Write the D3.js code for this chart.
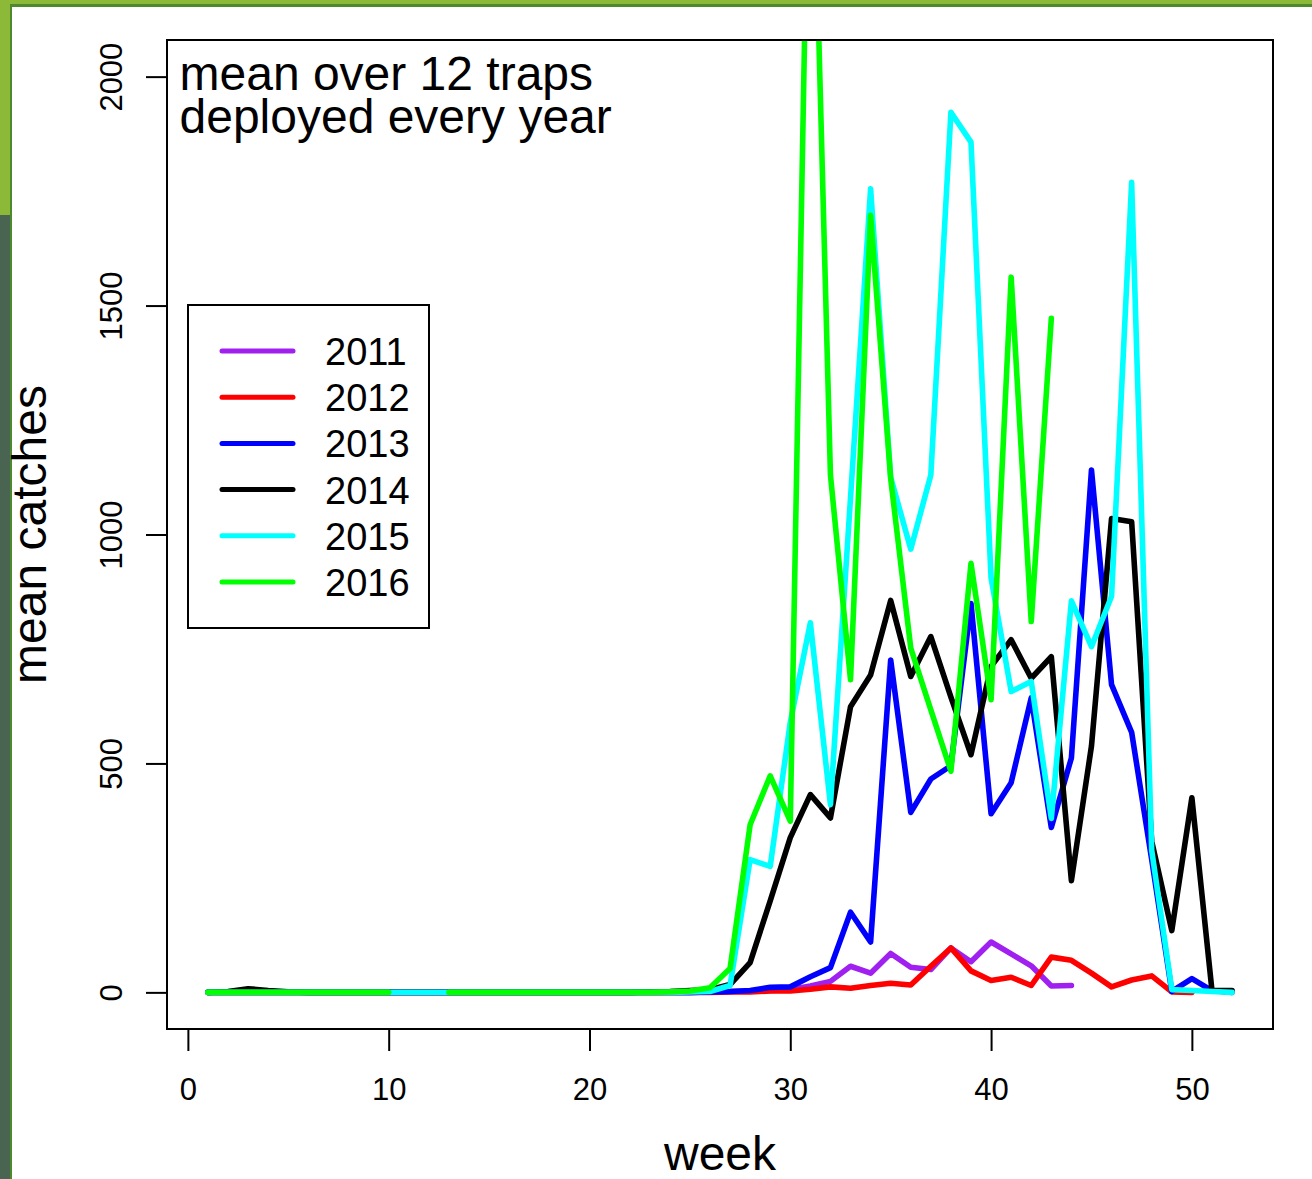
<!DOCTYPE html>
<html>
<head>
<meta charset="utf-8">
<script src="https://cdn.jsdelivr.net/npm/d3@7"></script>
<style>
  html, body { margin: 0; padding: 0; background: #ffffff; }
  svg { display: block; font-family: "Liberation Sans", Arial, Helvetica, sans-serif; }
</style>
</head>
<body>
<svg id="chart" width="1312" height="1179"></svg>
<script>
// Weekly mean catches over 12 traps, one series per year (null = no data that week)
const weeks = d3.range(1, 53);

const years = ["2011", "2012", "2013", "2014", "2015", "2016"];
const yearColors = ["#A020F0", "#FF0000", "#0000FF", "#000000", "#00FFFF", "#00FF00"];

const catches2011 = [
  0, 0, 0, 0, 0, 0, 0, 0, 0, 0,
  0, 0, 0, 0, 0, 0, 0, 0, 0, 0,
  0, 0, 0, 0, 0, 1, 2, 3, 4, 6,
  14, 24, 57, 42, 85, 55, 50, 97, 67, 110,
  84, 58, 14, 15
];
const catches2012 = [
  0, 0, 0, 0, 0, 0, 0, 0, 0, 0,
  0, 0, 0, 0, 0, 0, 0, 0, 0, 0,
  0, 0, 0, 0, 0, 0, 1, 1, 3, 3,
  7, 12, 9, 15, 20, 16, 57, 97, 47, 26,
  33, 15, 77, 70, 42, 12, 27, 36, 1, 0
];
const catches2013 = [
  0, 0, 0, 0, 0, 0, 0, 0, 0, 0,
  0, 0, 0, 0, 0, 0, 0, 0, 0, 0,
  0, 0, 0, 0, 0, 1, 2, 4, 11, 12,
  34, 54, 175, 110, 726, 393, 466, 495, 849, 390,
  458, 643, 360, 512, 1141, 672, 568, 290, 2, 30,
  4, 0
];
const catches2014 = [
  0, 2, 8, 4, 1, 0, 0, 0, 0, 0,
  0, 0, 0, 0, 0, 0, 0, 0, 0, 0,
  0, 0, 1, 2, 4, 6, 17, 65, 200, 338,
  432, 381, 624, 693, 856, 690, 777, 645, 519, 712,
  770, 686, 733, 244, 538, 1035, 1028, 330, 135, 425,
  4, 4
];
const catches2015 = [
  0, 0, 0, 0, 0, 0, 0, 0, 0, 0,
  0, 0, 0, 0, 0, 0, 0, 0, 0, 0,
  0, 0, 0, 0, 1, 2, 15, 290, 275, 590,
  807, 410, 1080, 1755, 1125, 968, 1130, 1922, 1857, 905,
  657, 679, 380, 855, 755, 865, 1769, 310, 6, 4,
  2, 0
];
const catches2016 = [
  0, 0, 0, 0, 0, 0, 0, 0, 0, 0,
  null, null, 0, 0, 0, 0, 0, 0, 0, 0,
  0, 0, 0, 1, 3, 10, 52, 366, 473, 374,
  2780, 1130, 683, 1697, 1122, 752, 617, 483, 937, 639,
  1562, 810, 1472
];

const xTicks = [0, 10, 20, 30, 40, 50];
const yTicks = [0, 500, 1000, 1500, 2000];
const noteLines = ["mean over 12 traps", "deployed every year"];

const seriesValues = [catches2011, catches2012, catches2013, catches2014, catches2015, catches2016];
const series = years.map((yr, i) => ({
  year: yr,
  color: yearColors[i],
  points: seriesValues[i].map((v, j) => ({ week: weeks[j], value: v }))
}));

const svg = d3.select("#chart");
const W = 1312, H = 1179;

// page frame: green band on top and left edge
svg.append("rect").attr("x", 0).attr("y", 0).attr("width", W).attr("height", H).attr("fill", "#ffffff");
svg.append("rect").attr("x", 0).attr("y", 0).attr("width", W).attr("height", 4).attr("fill", "#8CB937");
svg.append("rect").attr("x", 0).attr("y", 4).attr("width", W).attr("height", 3).attr("fill", "#4C8A2D");
svg.append("rect").attr("x", 0).attr("y", 0).attr("width", 10).attr("height", 215).attr("fill", "#8CB937");
svg.append("rect").attr("x", 0).attr("y", 215).attr("width", 10).attr("height", H - 215).attr("fill", "#4A6452");
svg.append("rect").attr("x", 10).attr("y", 4).attr("width", 2).attr("height", H - 4).attr("fill", "#4C8A2D");

// plot region
const plot = { left: 167, right: 1273, top: 40, bottom: 1029 };

const x = d3.scaleLinear().domain([1 - 0.04 * 51, 52 + 0.04 * 51]).range([plot.left, plot.right]);
const y = d3.scaleLinear().domain([-80, 2080]).range([plot.bottom, plot.top]);

svg.append("defs").append("clipPath").attr("id", "plotClip")
  .append("rect")
  .attr("x", plot.left).attr("y", plot.top)
  .attr("width", plot.right - plot.left).attr("height", plot.bottom - plot.top);

const line = d3.line()
  .defined(d => d.value !== null && d.value !== undefined)
  .x(d => x(d.week))
  .y(d => y(d.value));

const lines = svg.append("g").attr("clip-path", "url(#plotClip)");
lines.selectAll("path")
  .data(series)
  .join("path")
  .attr("d", d => line(d.points))
  .attr("fill", "none")
  .attr("stroke", d => d.color)
  .attr("stroke-width", 5.6)
  .attr("stroke-linejoin", "round")
  .attr("stroke-linecap", "round");

// box around the plot
svg.append("rect")
  .attr("x", plot.left).attr("y", plot.top)
  .attr("width", plot.right - plot.left).attr("height", plot.bottom - plot.top)
  .attr("fill", "none").attr("stroke", "#000").attr("stroke-width", 2);

// x axis
const xAxis = svg.append("g")
  .attr("transform", `translate(0,${plot.bottom})`)
  .call(d3.axisBottom(x).tickValues(xTicks).tickFormat(d3.format("d")).tickSize(22).tickSizeOuter(0));
xAxis.select(".domain").remove();
xAxis.selectAll(".tick line").attr("stroke", "#000").attr("stroke-width", 2);
xAxis.selectAll(".tick text")
  .attr("y", 71).attr("dy", null)
  .attr("fill", "#000")
  .style("font-size", "31px")
  .style("font-family", "'Liberation Sans', Arial, sans-serif");

// y axis with labels parallel to the axis
const yAxis = svg.append("g")
  .attr("transform", `translate(${plot.left},0)`)
  .call(d3.axisLeft(y).tickValues(yTicks).tickFormat(d3.format("d")).tickSize(21).tickSizeOuter(0));
yAxis.select(".domain").remove();
yAxis.selectAll(".tick line").attr("stroke", "#000").attr("stroke-width", 2);
yAxis.selectAll(".tick text")
  .attr("x", 0).attr("y", -45).attr("dy", null)
  .attr("transform", "rotate(-90)")
  .attr("text-anchor", "middle")
  .attr("fill", "#000")
  .style("font-size", "31px")
  .style("font-family", "'Liberation Sans', Arial, sans-serif");

// axis titles
svg.append("text")
  .attr("x", (plot.left + plot.right) / 2).attr("y", 1170)
  .attr("text-anchor", "middle")
  .style("font-size", "48px")
  .text("week");

svg.append("text")
  .attr("transform", `translate(46,${(plot.top + plot.bottom) / 2}) rotate(-90)`)
  .attr("text-anchor", "middle")
  .style("font-size", "48px")
  .text("mean catches");

// note in the top-left corner
svg.append("g").selectAll("text")
  .data(noteLines)
  .join("text")
  .attr("x", 179.5)
  .attr("y", (d, i) => 90 + i * 42.5)
  .style("font-size", "48px")
  .text(d => d);

// legend
const legend = { left: 188, top: 305, right: 429, bottom: 628, firstRow: 351, rowGap: 46.2 };
svg.append("rect")
  .attr("x", legend.left).attr("y", legend.top)
  .attr("width", legend.right - legend.left).attr("height", legend.bottom - legend.top)
  .attr("fill", "#fff").attr("stroke", "#000").attr("stroke-width", 2);

const rows = svg.append("g").selectAll("g")
  .data(series)
  .join("g")
  .attr("transform", (d, i) => `translate(0,${legend.firstRow + i * legend.rowGap})`);
rows.append("line")
  .attr("x1", 222).attr("x2", 293)
  .attr("stroke", d => d.color)
  .attr("stroke-width", 5)
  .attr("stroke-linecap", "round");
rows.append("text")
  .attr("x", 325).attr("y", 14)
  .style("font-size", "38px")
  .text(d => d.year);
</script>
</body>
</html>
